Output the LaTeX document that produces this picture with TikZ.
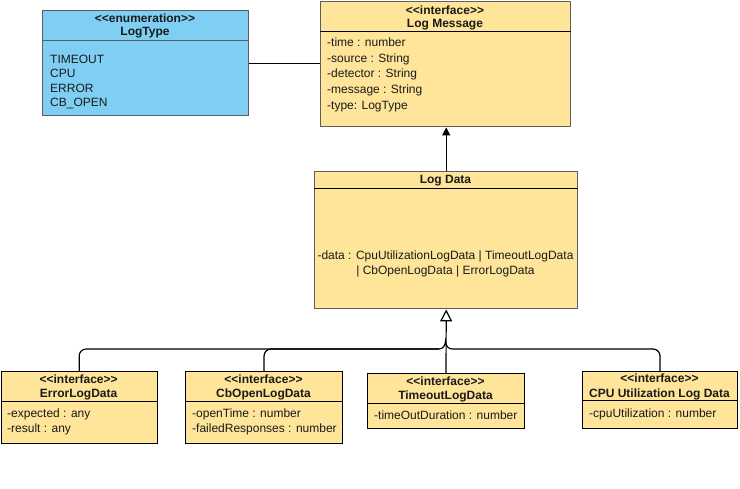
\documentclass[tikz,border=0pt]{standalone}
\usepackage{fontspec}
\setmainfont{Liberation Sans}
\usetikzlibrary{arrows.meta}

\definecolor{enumblue}{HTML}{7FCFF5}
\definecolor{ifaceyellow}{HTML}{FFE599}
\definecolor{framegray}{HTML}{5E5E5E}
\definecolor{inktext}{HTML}{1A1A1A}

\begin{document}
\begin{tikzpicture}[x=1pt, y=-1pt,
  classbox/.style={draw=black, line width=1.1pt, rectangle, inner sep=0pt,
                   anchor=north west, fill=ifaceyellow},
  softframe/.style={draw=framegray, line width=1.4pt},
  divider/.style={draw=black, line width=1pt},
  stereo/.style={font=\fontsize{12}{14}\selectfont\bfseries, text=inktext, inner sep=0pt, anchor=mid, yshift=-1.8pt},
  cname/.style={font=\fontsize{12}{14}\selectfont\bfseries, text=inktext, inner sep=0pt, anchor=mid, yshift=-1.8pt},
  member/.style={font=\fontsize{12}{14}\selectfont, text=inktext, inner sep=0pt, anchor=mid west, yshift=-1.8pt},
  link/.style={draw=black, line width=1.2pt},
  busline/.style={draw=black, line width=1.2pt, rounded corners=7pt},
]
\fill[white] (0,0) rectangle (740,488);
\useasboundingbox (0,0) rectangle (740,488);

% ---------- LogType enumeration ----------
\node[classbox, softframe, fill=enumblue, minimum width=206pt, minimum height=105pt] (logtype) at (42,10) {};
\draw[divider, draw=framegray] (logtype.west |- 0,40) -- (logtype.east |- 0,40);
\node[stereo] (lt-st) at (145,18) {<{}<enumeration>{}>};
\node[cname] (lt-nm) at (145,31) {LogType};
\node[member] (lt-1) at (50,59) {TIMEOUT};
\node[member] (lt-2) at (50,73.5) {CPU};
\node[member] (lt-3) at (50,88) {ERROR};
\node[member] (lt-4) at (50,102) {CB\_OPEN};

% ---------- Log Message interface ----------
\node[classbox, softframe, minimum width=250pt, minimum height=125pt] (logmsg) at (320,1) {};
\draw[divider] (logmsg.west |- 0,31) -- (logmsg.east |- 0,31);
\node[stereo] (lm-st) at (445,10) {<{}<interface>{}>};
\node[cname] (lm-nm) at (445,23) {Log Message};
\node[member] (lm-1) at (327,42) {-time : number};
\node[member] (lm-2) at (327,58) {-source : String};
\node[member] (lm-3) at (327,73.5) {-detector : String};
\node[member] (lm-4) at (327,89) {-message : String};
\node[member] (lm-5) at (327,105) {-type: LogType};

% ---------- Log Data ----------
\node[classbox, softframe, minimum width=263pt, minimum height=137pt] (logdata) at (314,171) {};
\draw[divider] (logdata.west |- 0,188) -- (logdata.east |- 0,188);
\node[cname] (ld-nm) at (445.5,179.5) {Log Data};
\node[member, anchor=mid] (ld-1) at (445.5,255) {-data : CpuUtilizationLogData | TimeoutLogData};
\node[member, anchor=mid] (ld-2) at (445.5,270) {| CbOpenLogData | ErrorLogData};

% ---------- concrete log data interfaces ----------
\node[classbox, minimum width=156pt, minimum height=72pt] (errdata) at (0.6,371) {};
\draw[divider] (errdata.west |- 0,401) -- (errdata.east |- 0,401);
\node[stereo] (er-st) at (78.6,379) {<{}<interface>{}>};
\node[cname] (er-nm) at (78.6,393) {ErrorLogData};
\node[member] (er-1) at (7,413) {-expected : any};
\node[member] (er-2) at (7,428) {-result : any};

\node[classbox, minimum width=157pt, minimum height=72pt] (cbdata) at (185,371) {};
\draw[divider] (cbdata.west |- 0,401) -- (cbdata.east |- 0,401);
\node[stereo] (cb-st) at (263.5,379) {<{}<interface>{}>};
\node[cname] (cb-nm) at (263.5,393) {CbOpenLogData};
\node[member] (cb-1) at (192,413) {-openTime : number};
\node[member] (cb-2) at (192,428) {-failedResponses : number};

\node[classbox, minimum width=157pt, minimum height=55pt] (todata) at (367,373) {};
\draw[divider] (todata.west |- 0,403) -- (todata.east |- 0,403);
\node[stereo] (to-st) at (445.5,381) {<{}<interface>{}>};
\node[cname] (to-nm) at (445.5,395) {TimeoutLogData};
\node[member] (to-1) at (374,415) {-timeOutDuration : number};

\node[classbox, minimum width=155pt, minimum height=57pt] (cpudata) at (582,371) {};
\draw[divider] (cpudata.west |- 0,400) -- (cpudata.east |- 0,400);
\node[stereo] (cpu-st) at (659.5,378) {<{}<interface>{}>};
\node[cname] (cpu-nm) at (659.5,393) {CPU Utilization Log Data};
\node[member] (cpu-1) at (589,413) {-cpuUtilization : number};

% ---------- connectors ----------
% association between the enumeration and the message
\draw[link] (logtype.east) -- (logtype.east -| logmsg.west);
% Log Data refers to Log Message
\draw[link, -{Triangle[length=8pt, width=8pt]}] (logdata.north) -- (logdata.north |- logmsg.south);

% generalisation bus with a line jump over the vertical branch
\coordinate (hopL) at (439,349);
\coordinate (hopR) at (452,349);
\coordinate (hopTop) at (445.5,341);
\draw[busline] (errdata.north) |- (hopL);
\draw[busline] (cbdata.north) |- (hopL);
\draw[busline] (cpudata.north) |- (hopR);
\draw[link] (hopL) .. controls (443,349) and (445.5,345) .. (hopTop)
            .. controls (445.5,345) and (448,349) .. (hopR);
\draw[link, -{Triangle[length=12pt, width=12pt, fill=white]}] (todata.north) -- (logdata.south);
\end{tikzpicture}
\end{document}
